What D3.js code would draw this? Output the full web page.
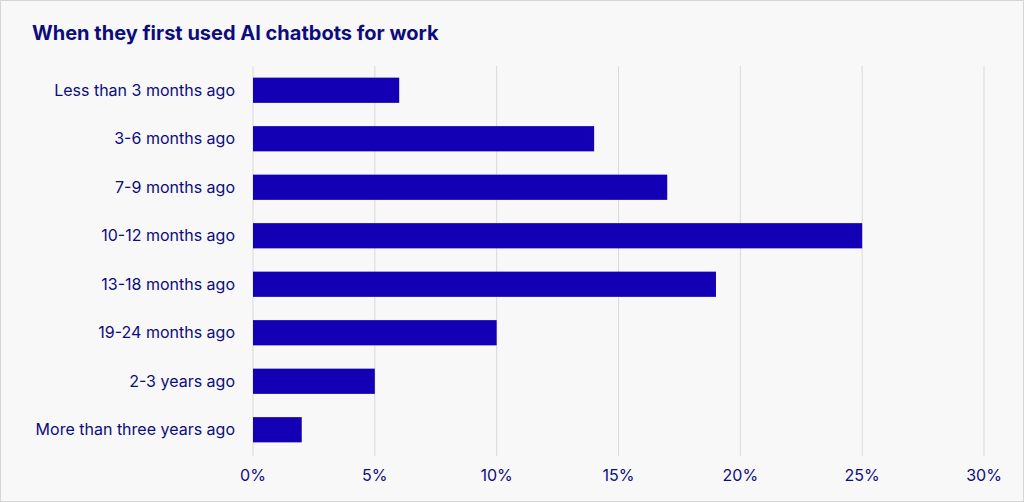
<!DOCTYPE html>
<html><head><meta charset="utf-8">
<script src="https://cdn.jsdelivr.net/npm/d3@7"></script>
<style>
body{margin:0;background:#fff;font-family:Inter,"Noto Sans",sans-serif;}
</style></head>
<body><svg id="chart" width="1024" height="502"></svg>
<script>
const categories = ["Less than 3 months ago","3-6 months ago","7-9 months ago","10-12 months ago","13-18 months ago","19-24 months ago","2-3 years ago","More than three years ago"];
const values = [6,14,17,25,19,10,5,2];
const ticks = [0,5,10,15,20,25,30];

const svg = d3.select("#chart");
svg.append("rect").attr("x",0.5).attr("y",0.5).attr("width",1023).attr("height",501)
  .attr("fill","#f8f8f8").attr("stroke","#d6d6d6");

svg.append("text").attr("x",32).attr("y",40).text("When they first used AI chatbots for work")
  .attr("fill","#0c0c7c").attr("font-size",20).attr("font-weight",700);

const x = d3.scaleLinear().domain([0,30]).range([253,984]);
const y = d3.scaleBand().domain(categories).range([66,454]).paddingInner(0.48).paddingOuter(0.24);

svg.append("g").selectAll("line").data(ticks).join("line")
  .attr("x1",d=>x(d)).attr("x2",d=>x(d)).attr("y1",66).attr("y2",456)
  .attr("stroke","#d9d9d9").attr("stroke-width",1);

svg.append("g").selectAll("rect").data(values).join("rect")
  .attr("x",x(0)).attr("y",(d,i)=>y(categories[i]))
  .attr("width",d=>x(d)-x(0)).attr("height",y.bandwidth())
  .attr("fill","#1300b4");

svg.append("g").selectAll("text").data(categories).join("text")
  .attr("x",235).attr("y",d=>y(d)+y.bandwidth()/2).attr("dy","0.35em")
  .attr("text-anchor","end").attr("fill","#0c0c7c").attr("font-size",16).text(d=>d);

svg.append("g").selectAll("text").data(ticks).join("text")
  .attr("x",d=>x(d)).attr("y",481).attr("text-anchor","middle")
  .attr("fill","#0c0c7c").attr("font-size",16).text(d=>d+"%");
</script></body></html>
